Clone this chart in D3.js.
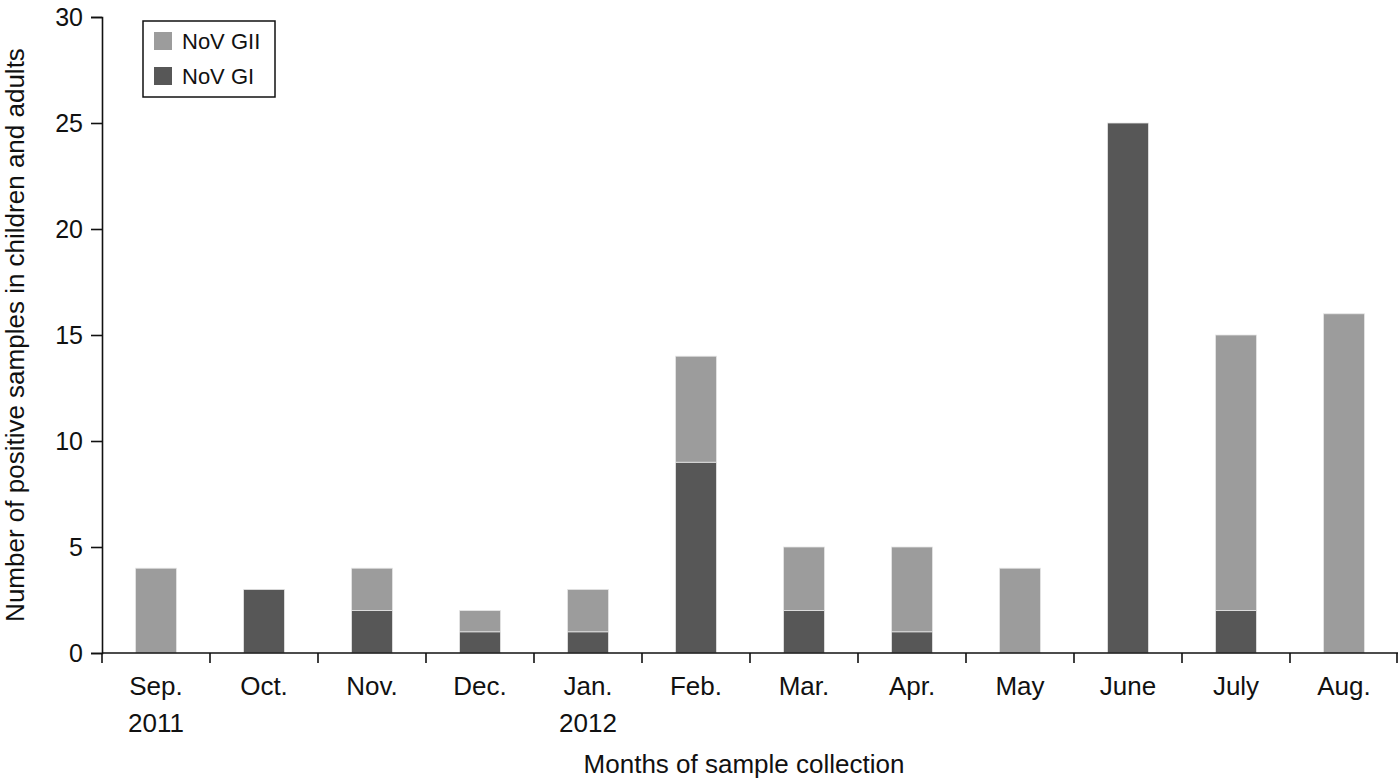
<!DOCTYPE html>
<html><head><meta charset="utf-8">
<script src="https://cdn.jsdelivr.net/npm/d3@7"></script>
<style>body{margin:0;background:#fff}svg{display:block}text{font-family:"Liberation Sans",Arial,Helvetica,sans-serif;fill:#111}</style>
</head><body>
<svg id="chart" width="1400" height="781"></svg>
<script>
const months = ["Sep.\n2011","Oct.","Nov.","Dec.","Jan.\n2012","Feb.","Mar.","Apr.","May","June","July","Aug."];
const noVGI  = [0,3,2,1,1,9,2,1,0,25,2,0];
const noVGII = [4,0,2,1,2,5,3,4,4,0,13,16];
const yTicks = [0,5,10,15,20,25,30];
const seriesNames = ["NoV GI","NoV GII"];
const colors = {"NoV GI":"#575757","NoV GII":"#9c9c9c"};

const svg = d3.select("#chart");
const m = {left:102, right:2, top:17, bottom:128};
const W = 1400, H = 781;
const x = d3.scaleBand().domain(months).range([m.left, W-m.right]).paddingInner(0.62).paddingOuter(0.31);
const xEdge = d3.scaleBand().domain(months).range([m.left, W-m.right]);
const y = d3.scaleLinear().domain([0,30]).range([H-m.bottom, m.top]);

const rows = months.map((mo,i)=>({month:mo,"NoV GI":noVGI[i],"NoV GII":noVGII[i]}));
const stacked = d3.stack().keys(seriesNames)(rows);

svg.append("g").selectAll("g").data(stacked).join("g")
  .attr("fill", d=>colors[d.key])
  .selectAll("rect").data(d=>d).join("rect")
  .attr("x", d=>x(d.data.month))
  .attr("width", x.bandwidth())
  .attr("y", d=>y(d[1]))
  .attr("height", d=>y(d[0])-y(d[1]))
  .attr("stroke","#e6e6e6").attr("stroke-width",0.8);

// y axis
const ya = svg.append("g").attr("transform",`translate(${m.left},0)`)
  .call(d3.axisLeft(y).tickValues(yTicks).tickSize(11).tickPadding(8));
ya.select(".domain").attr("stroke","#111").attr("stroke-width",1.6);
ya.selectAll(".tick line").attr("stroke","#111").attr("stroke-width",1.6);
ya.selectAll(".tick text").attr("font-size",25).attr("font-family","Liberation Sans, Arial").attr("fill","#111").attr("dy","0.35em");

// x axis
const xa = svg.append("g").attr("transform",`translate(0,${y(0)})`);
xa.append("line").attr("x1",m.left).attr("x2",W-m.right).attr("stroke","#111").attr("stroke-width",1.6);
const edges = months.map(mo=>xEdge(mo)).concat([W-m.right-1]);
xa.selectAll("line.tk").data(edges).join("line").attr("class","tk")
  .attr("x1",d=>d).attr("x2",d=>d).attr("y1",0).attr("y2",10)
  .attr("stroke","#111").attr("stroke-width",1.6);
const lbl = xa.selectAll("text.lbl").data(months).join("text").attr("class","lbl")
  .attr("x",d=>x(d)+x.bandwidth()/2).attr("y",42)
  .attr("text-anchor","middle").attr("font-size",26);
lbl.each(function(d){
  const parts = d.split("\n");
  d3.select(this).selectAll("tspan").data(parts).join("tspan")
    .attr("x",x(d)+x.bandwidth()/2).attr("dy",(p,i)=>i===0?0:37).text(p=>p);
});

// axis titles
svg.append("text").attr("x",744).attr("y",773).attr("text-anchor","middle").attr("font-size",26)
  .text("Months of sample collection");
svg.append("text").attr("transform","translate(24,335) rotate(-90)").attr("text-anchor","middle").attr("font-size",26)
  .text("Number of positive samples in children and adults");

// legend
const lg = svg.append("g");
lg.append("rect").attr("x",143).attr("y",21).attr("width",132).attr("height",76)
  .attr("fill","#fff").attr("stroke","#111").attr("stroke-width",1.5);
const legendItems = ["NoV GII","NoV GI"];
legendItems.forEach((k,i)=>{
  lg.append("rect").attr("x",154).attr("y",32+i*35).attr("width",18).attr("height",18).attr("fill",colors[k]);
  lg.append("text").attr("x",182).attr("y",49+i*35).attr("font-size",22).text(k);
});
</script>
</body></html>
